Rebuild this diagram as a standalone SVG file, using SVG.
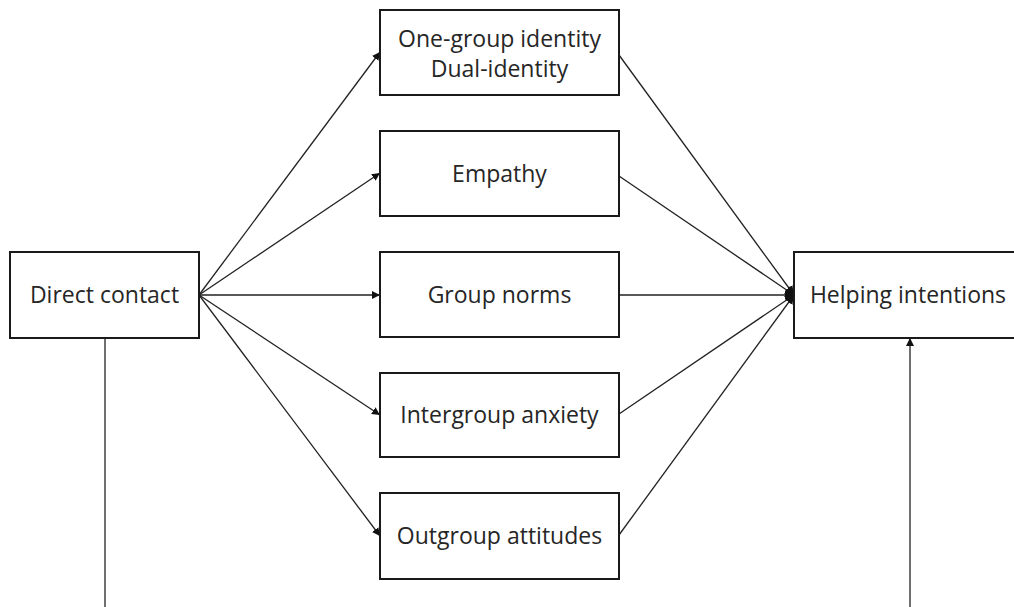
<svg xmlns="http://www.w3.org/2000/svg" width="1014" height="607" viewBox="0 0 1014 607">
<style>
.box{fill:#fff;stroke:#1a1a1a;stroke-width:2}
.lbl{font-family:"Open Sans","Noto Sans",sans-serif;font-size:23px;fill:#262626;text-anchor:middle}
.ln{stroke:#222;stroke-width:1.3;fill:none}
</style>
<defs>
<marker id="ah" viewBox="0 0 10 10" refX="10" refY="5" markerWidth="8" markerHeight="8" markerUnits="userSpaceOnUse" orient="auto">
<path d="M0,0 L10,5 L0,10 z" fill="#111"/>
</marker>
<marker id="ah2" viewBox="0 0 10 10" refX="10" refY="5" markerWidth="9" markerHeight="9" markerUnits="userSpaceOnUse" orient="auto">
<path d="M0,0 L10,5 L0,10 z" fill="#111"/>
</marker>
</defs>
<rect width="1014" height="607" fill="#fff"/>
<g id="connectors">
<line class="ln" x1="199" y1="295" x2="380" y2="52" marker-end="url(#ah)"/>
<line class="ln" x1="199" y1="295" x2="380" y2="173" marker-end="url(#ah)"/>
<line class="ln" x1="199" y1="295" x2="380" y2="295" marker-end="url(#ah)"/>
<line class="ln" x1="199" y1="295" x2="380" y2="415" marker-end="url(#ah)"/>
<line class="ln" x1="199" y1="295" x2="380" y2="536" marker-end="url(#ah)"/>
<line class="ln" x1="619" y1="55" x2="794" y2="295" marker-end="url(#ah2)"/>
<line class="ln" x1="619" y1="176" x2="794" y2="295" marker-end="url(#ah2)"/>
<line class="ln" x1="619" y1="295" x2="794" y2="295" marker-end="url(#ah2)"/>
<line class="ln" x1="619" y1="414" x2="794" y2="295" marker-end="url(#ah2)"/>
<line class="ln" x1="619" y1="535" x2="794" y2="295" marker-end="url(#ah2)"/>
<line class="ln" x1="105" y1="338" x2="105" y2="607"/>
<line class="ln" x1="910" y1="607" x2="910" y2="338" marker-end="url(#ah)"/>
</g>
<g id="direct-contact">
<rect class="box" x="10" y="252" width="189" height="86"/>
<text class="lbl" x="104.5" y="303">Direct contact</text>
</g>
<g id="one-group-identity">
<rect class="box" x="380" y="10" width="239" height="85"/>
<text class="lbl" x="499.5" y="47">One-group identity</text>
<text class="lbl" x="499.5" y="77">Dual-identity</text>
</g>
<g id="empathy">
<rect class="box" x="380" y="131" width="239" height="85"/>
<text class="lbl" x="499.5" y="182">Empathy</text>
</g>
<g id="group-norms">
<rect class="box" x="380" y="252" width="239" height="85"/>
<text class="lbl" x="499.5" y="303">Group norms</text>
</g>
<g id="intergroup-anxiety">
<rect class="box" x="380" y="373" width="239" height="84"/>
<text class="lbl" x="499.5" y="423">Intergroup anxiety</text>
</g>
<g id="outgroup-attitudes">
<rect class="box" x="380" y="493" width="239" height="86"/>
<text class="lbl" x="499.5" y="544">Outgroup attitudes</text>
</g>
<g id="helping-intentions">
<rect class="box" x="794" y="252" width="240" height="86"/>
<text class="lbl" x="908" y="303">Helping intentions</text>
</g>
</svg>
